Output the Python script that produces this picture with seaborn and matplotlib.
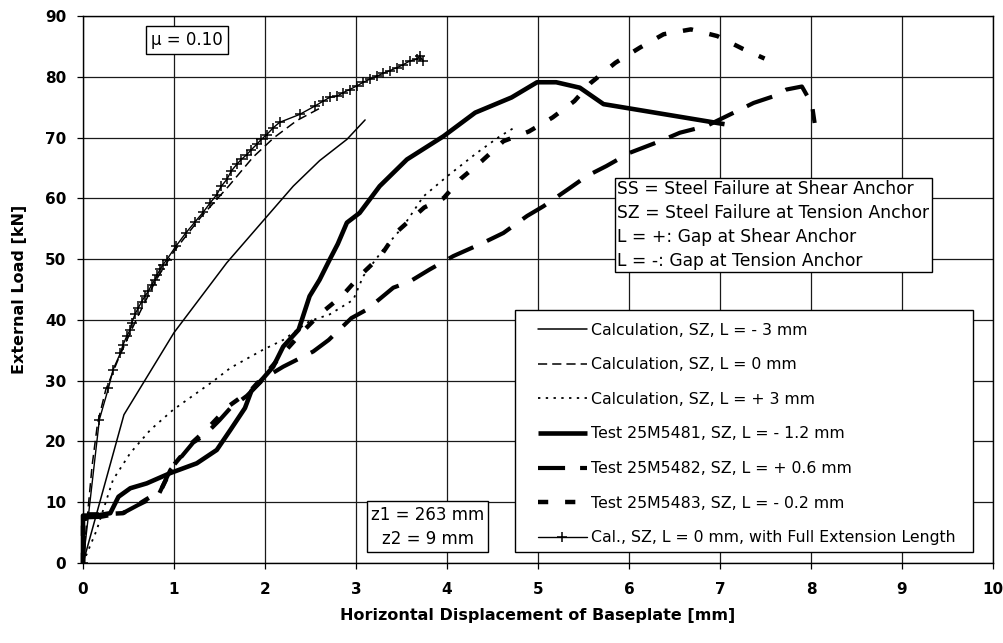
import matplotlib
matplotlib.use("Agg")
import matplotlib.pyplot as plt
import seaborn as sns
import pandas as pd
from matplotlib.patches import Rectangle

# ---------------- data ----------------
calc_m3_x = [0.0, 0.45, 1.0, 1.58, 2.02, 2.31, 2.60, 2.90, 3.10]
calc_m3_y = [0.0, 24.4, 37.9, 49.4, 57.0, 62.0, 66.2, 69.7, 72.9]

calc_0_x = [0.0, 0.05, 0.10, 0.16, 0.25, 0.40, 0.60, 0.80, 1.00, 1.30, 1.60, 1.87, 2.10, 2.35, 2.60]
calc_0_y = [0.0, 8.0, 16.0, 23.0, 28.5, 34.0, 40.5, 46.5, 51.3, 57.0, 62.0, 66.8, 70.0, 72.8, 74.8]

calc_p3_x = [0.0, 0.15, 0.33, 0.52, 0.74, 0.99, 1.43, 1.62, 1.98, 2.20, 2.49, 2.71, 2.97, 3.08,
             3.30, 3.52, 3.74, 4.00, 4.33, 4.58, 4.77]
calc_p3_y = [0.0, 5.4, 13.7, 18.1, 21.9, 25.2, 29.9, 32.1, 35.1, 36.7, 39.8, 40.9, 43.3, 47.2,
             51.6, 55.4, 60.3, 63.6, 67.5, 70.2, 71.9]

t5481_x = [0.0, 0.0, 0.15, 0.30, 0.39, 0.52, 0.70, 0.96, 1.25, 1.47, 1.62, 1.78, 1.85, 1.98, 2.09,
           2.20, 2.37, 2.49, 2.60, 2.71, 2.80, 2.90, 3.04, 3.26, 3.56, 3.96, 4.31, 4.71, 4.99,
           5.20, 5.46, 5.72, 7.05]
t5481_y = [0.0, 7.8, 7.8, 8.2, 10.9, 12.3, 13.1, 14.8, 16.4, 18.6, 21.9, 25.5, 28.3, 30.4, 32.3,
           35.6, 38.4, 43.9, 46.6, 49.9, 52.5, 56.0, 57.6, 62.0, 66.4, 70.2, 74.1, 76.6, 79.1,
           79.1, 78.2, 75.5, 72.2]

t5482_x = [0.0, 0.02, 0.20, 0.45, 0.60, 0.83, 0.96, 1.21, 1.34, 1.50, 1.62, 1.80, 2.00, 2.20,
           2.53, 2.70, 2.95, 3.12, 3.41, 3.59, 3.81, 4.07, 4.40, 4.62, 4.88, 5.06, 5.35, 5.54,
           5.75, 6.01, 6.34, 6.56, 6.85, 7.07, 7.37, 7.59, 7.73, 7.90, 8.01, 8.04]
t5482_y = [0.0, 7.5, 7.6, 8.3, 9.5, 11.2, 15.3, 19.8, 21.1, 23.5, 25.5, 27.5, 30.5, 32.3,
           34.8, 36.7, 40.3, 41.7, 45.3, 46.3, 48.3, 50.5, 52.7, 54.3, 57.1, 58.7, 61.7, 63.7,
           65.3, 67.5, 69.4, 70.8, 71.9, 73.5, 75.7, 76.8, 77.9, 78.4, 75.5, 72.4]

t5483_x = [0.0, 0.0, 0.20, 0.44, 0.55, 0.70, 0.85, 0.98, 1.20, 1.36, 1.60, 1.85, 2.00, 2.20,
           2.41, 2.60, 2.85, 3.06, 3.27, 3.45, 3.75, 3.96, 4.15, 4.38, 4.62, 4.90, 5.16, 5.40,
           5.58, 5.85, 6.12, 6.38, 6.68, 6.97, 7.25, 7.49]
t5483_y = [0.0, 8.0, 8.0, 8.2, 9.1, 10.5, 11.8, 15.8, 19.8, 22.0, 25.8, 28.5, 31.0, 34.5,
           38.0, 40.9, 44.0, 47.5, 50.5, 54.5, 58.5, 60.0, 63.2, 66.1, 69.4, 71.0, 73.3, 76.0,
           79.0, 82.3, 84.8, 87.0, 87.8, 86.7, 84.6, 83.0]

full_x = [0.0, 0.18, 0.28, 0.33, 0.41, 0.44, 0.48, 0.52, 0.535, 0.571, 0.608, 0.645, 0.68, 0.718,
          0.755, 0.79, 0.816, 0.846, 0.88, 0.92, 1.02, 1.13, 1.23, 1.32, 1.40, 1.47, 1.52, 1.58,
          1.63, 1.69, 1.74, 1.80, 1.85, 1.91, 1.96, 2.02, 2.09, 2.16, 2.38, 2.55, 2.64, 2.71,
          2.79, 2.86, 2.93, 3.01, 3.08, 3.15, 3.23, 3.30, 3.37, 3.45, 3.52, 3.59, 3.67, 3.70, 3.74]
full_y = [0.0, 23.6, 28.8, 31.8, 34.5, 35.9, 37.3, 38.4, 39.5, 40.9, 42.0, 43.0, 43.9, 44.7,
          45.8, 46.6, 47.4, 48.3, 49.1, 49.9, 52.1, 54.3, 56.1, 57.7, 59.3, 60.6, 62.0, 63.1,
          64.5, 65.6, 66.4, 67.2, 68.0, 68.9, 69.7, 70.5, 71.6, 72.5, 73.8, 75.2, 76.0, 76.6,
          76.8, 77.4, 77.9, 78.5, 79.1, 79.6, 80.1, 80.6, 81.0, 81.5, 82.0, 82.6, 82.9, 83.4, 82.6]

labels = [
    "Calculation, SZ, L = - 3 mm",
    "Calculation, SZ, L = 0 mm",
    "Calculation, SZ, L = + 3 mm",
    "Test 25M5481, SZ, L = - 1.2 mm",
    "Test 25M5482, SZ, L = + 0.6 mm",
    "Test 25M5483, SZ, L = - 0.2 mm",
    "Cal., SZ, L = 0 mm, with Full Extension Length",
]
x_ticks = list(range(0, 11))
y_ticks = list(range(0, 100, 10))
x_label = "Horizontal Displacement of Baseplate [mm]"
y_label = "External Load [kN]"
note_mu = "\u03bc = 0.10"
note_z = "z1 = 263 mm\nz2 = 9 mm"
note_key = ("SS = Steel Failure at Shear Anchor\nSZ = Steel Failure at Tension Anchor\n"
            "L = +: Gap at Shear Anchor\nL = -: Gap at Tension Anchor")

# ---------------- style ----------------
sns.set_theme(style="ticks")
plt.rcParams["font.family"] = ["DejaVu Sans"]
plt.rcParams["text.color"] = "black"
plt.rcParams["axes.labelcolor"] = "black"
plt.rcParams["xtick.color"] = "black"
plt.rcParams["ytick.color"] = "black"
plt.rcParams["legend.labelcolor"] = "black"

fig = plt.figure(figsize=(10.04, 6.43), dpi=100)
ax = fig.add_axes([83 / 1004, 1 - 563 / 643, 910 / 1004, 547 / 643])

series = [
    (calc_m3_x, calc_m3_y, dict(lw=1.1, linestyle="-")),
    (calc_0_x, calc_0_y, dict(lw=1.1, linestyle=(0, (6.0, 3.3)))),
    (calc_p3_x, calc_p3_y, dict(lw=1.3, linestyle=(0, (1.3, 3.0)))),
    (t5481_x, t5481_y, dict(lw=3.3, linestyle="-", solid_capstyle="butt", clip_on=False)),
    (t5482_x, t5482_y, dict(lw=3.0, linestyle=(0, (6.5, 3.6)), dash_capstyle="butt", clip_on=False)),
    (t5483_x, t5483_y, dict(lw=3.2, linestyle=(0, (2.3, 3.8)), dash_capstyle="butt", clip_on=False)),
    (full_x, full_y, dict(lw=1.0, linestyle="-", marker="+", markersize=7,
                          markeredgewidth=1.1, markeredgecolor="black")),
]

for (xs, ys, kw), lab in zip(series, labels):
    df = pd.DataFrame({"x": xs, "y": ys})
    sns.lineplot(data=df, x="x", y="y", ax=ax, sort=False, estimator=None,
                 color="black", label=lab, legend=False, **kw)

ax.set_xlim(0, 10)
ax.set_ylim(0, 90)
ax.set_xticks(x_ticks)
ax.set_yticks(y_ticks)
ax.set_xticklabels([str(v) for v in x_ticks], fontweight="bold")
ax.set_yticklabels([str(v) for v in y_ticks], fontweight="bold")
ax.tick_params(axis="both", direction="out", length=4, width=0.9, color="black",
               labelsize=11, labelcolor="black")
ax.tick_params(axis="x", pad=10)
ax.tick_params(axis="y", pad=8)
ax.grid(True, color="#1a1a1a", lw=0.9)
ax.set_axisbelow(True)
for sp in ax.spines.values():
    sp.set_visible(True)
    sp.set_color("black")
    sp.set_linewidth(1.0)

ax.set_xlabel(x_label, fontsize=11.5, fontweight="bold", color="black")
ax.set_ylabel(y_label, fontsize=11.5, fontweight="bold", color="black")
ax.xaxis.set_label_coords(0.5, -0.082)
ax.yaxis.set_label_coords(-0.062, 0.5)

# legend box (frame drawn as patch for exact placement)
ax.add_patch(Rectangle((0.4747, 0.0201), 0.5033, 0.4424, transform=ax.transAxes,
                       facecolor="white", edgecolor="black", lw=1.0, zorder=4, clip_on=False))
handles, labs = ax.get_legend_handles_labels()
leg = ax.legend(handles, labs, loc="upper left", bbox_to_anchor=(0.500, 0.439),
                frameon=False, fontsize=11.3, handlelength=3.1, handletextpad=0.3,
                labelspacing=1.245, borderpad=0.0, borderaxespad=0.0, numpoints=1,
                labelcolor="black")
leg.set_zorder(5)

# annotation boxes
ax.text(1.14, 86.0, note_mu, fontsize=12, ha="center", va="center", zorder=6, color="black",
        bbox=dict(boxstyle="square,pad=0.3", fc="white", ec="black", lw=1.0))
ax.text(3.786, 5.98, note_z, fontsize=12, ha="center", va="center", multialignment="center",
        linespacing=1.45, zorder=6, color="black",
        bbox=dict(boxstyle="square,pad=0.25", fc="white", ec="black", lw=1.0))
ax.text(5.87, 63.0, note_key, fontsize=12.3, ha="left", va="top", linespacing=1.42, zorder=6,
        color="black",
        bbox=dict(boxstyle="square,pad=0.15", fc="white", ec="black", lw=1.0))

fig.savefig("out.png", dpi=100)
